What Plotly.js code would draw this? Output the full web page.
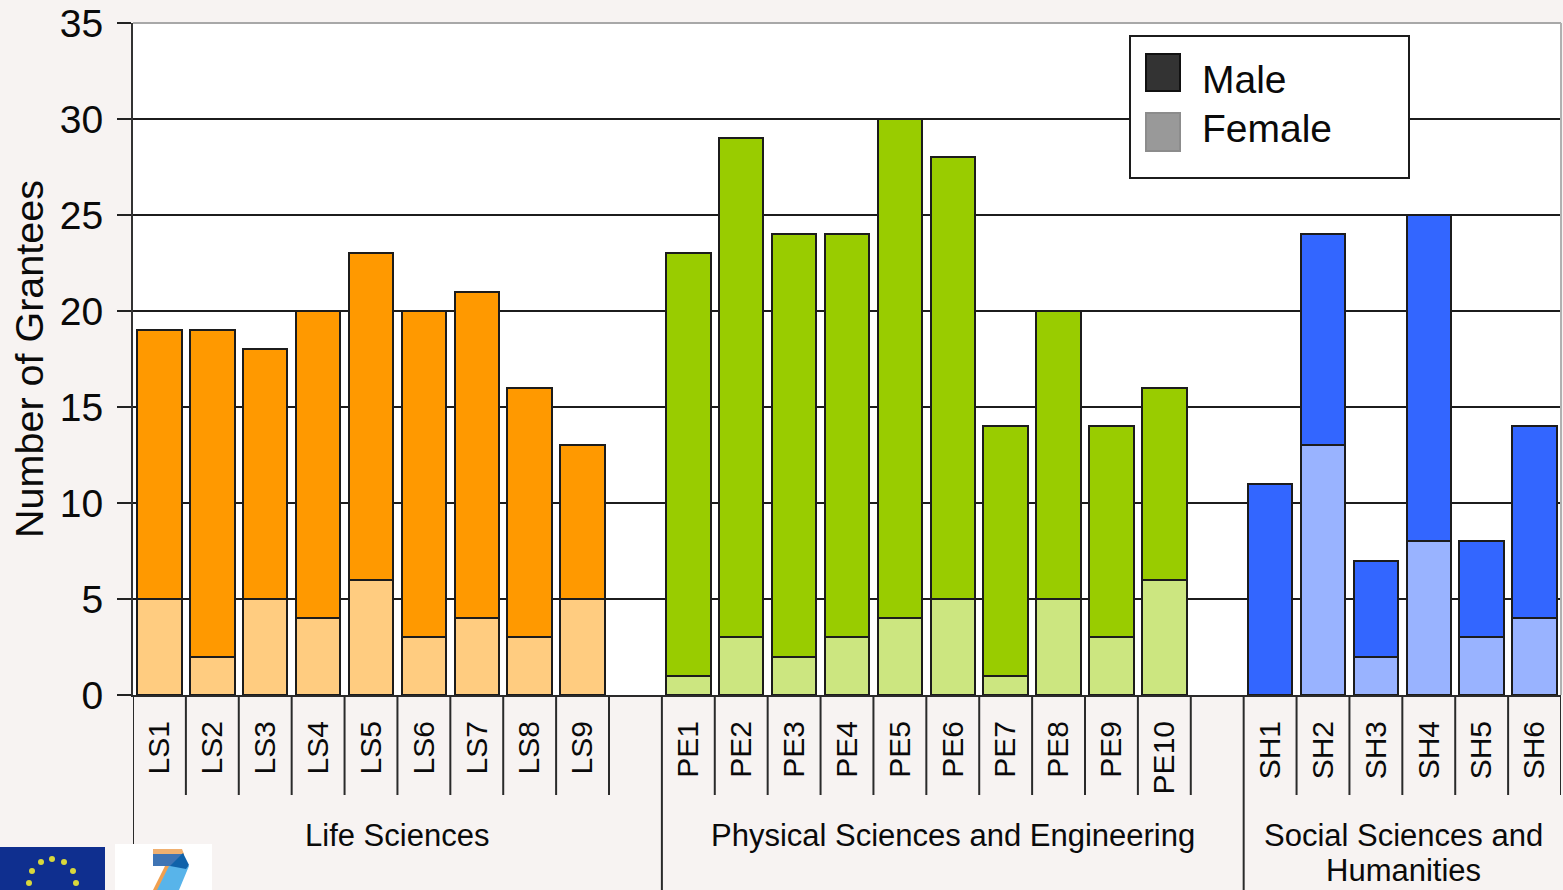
<!DOCTYPE html>
<html><head><meta charset="utf-8">
<script src="https://cdn.plot.ly/plotly-3.0.1.min.js"></script>
<style>html,body{margin:0;padding:0;background:#f7f3f2;overflow:hidden}#c{width:1563px;height:890px}</style>
</head><body><div id="c"></div>
<script>
const lsCats=["LS1","LS2","LS3","LS4","LS5","LS6","LS7","LS8","LS9"];
const peCats=["PE1","PE2","PE3","PE4","PE5","PE6","PE7","PE8","PE9","PE10"];
const shCats=["SH1","SH2","SH3","SH4","SH5","SH6"];
const lsFemale=[5,2,5,4,6,3,4,3,5];
const lsMale=[14,17,13,16,17,17,17,13,8];
const peFemale=[1,3,2,3,4,5,1,5,3,6];
const peMale=[22,26,22,21,26,23,13,15,11,10];
const shFemale=[0,13,2,8,3,4];
const shMale=[11,11,5,17,5,10];
const yTicks=[0,5,10,15,20,25,30,35];
const gapA=" ",gapB="  ";
const W=1563,H=890,L=133,R=1561,T=23,B=695;
const cats=[...lsCats,gapA,...peCats,gapB,...shCats];
const n=cats.length;
const xp=v=>(v-L)/(R-L), yp=v=>(B-v)/(B-T);
const f='Liberation Sans, Arial, sans-serif';
const ink='#0a0a0a';
function bar(name,cs,vals,color){
  return {type:'bar',name:name,x:cs,y:vals,showlegend:false,
    marker:{color:color,line:{color:'#1c1c1c',width:2}},width:0.84};
}
const traces=[
 bar('Female',lsCats,lsFemale,'#ffcc80'),
 bar('Female',peCats,peFemale,'#cce680'),
 bar('Female',shCats,shFemale,'#99b3ff'),
 bar('Male',lsCats,lsMale,'#ff9900'),
 bar('Male',peCats,peMale,'#99cc00'),
 bar('Male',shCats,shMale,'#3366ff')
];
const shapes=[];
// dividers below the axis: short between categories, long between groups
const groupEdges=[-0.5,9.5,20.5];
for(let i=0;i<=n;i++){
  const xv=i-0.5;
  shapes.push({type:'line',xref:'x',yref:'paper',x0:xv,x1:xv,y0:0,y1:yp(groupEdges.includes(xv)?890:795),line:{color:'#2a2a2a',width:2}});
}
const paper={xref:'paper',yref:'paper'};
// top and right plot border
shapes.push({...paper,type:'line',x0:0,x1:1,y0:1,y1:1,line:{color:'#a8a8a8',width:2}});
shapes.push({...paper,type:'line',x0:1,x1:1,y0:0,y1:1,line:{color:'#b0b0b0',width:2}});
// legend box
const rect=(x0,y0,x1,y1,fill,line,lw)=>({...paper,type:'rect',layer:'above',x0:xp(x0),x1:xp(x1),y0:yp(y1),y1:yp(y0),fillcolor:fill,line:{color:line,width:lw}});
shapes.push(rect(1130,36,1409,178,'#ffffff','#1c1c1c',2));
shapes.push(rect(1146,54,1180,91,'#333333','#111111',2));
shapes.push(rect(1146,113,1180,151,'#999999','#8c8c8c',2));
// logos
const poly=(pts,fill)=>({...paper,type:'path',layer:'above',fillcolor:fill,line:{width:0},
  path:'M'+pts.map(p=>xp(p[0])+','+yp(p[1])).join('L')+'Z'});
shapes.push(rect(0,847,105,890,'#0f2f8f','#0f2f8f',0));
shapes.push(rect(115,844,212,890,'#ffffff','#ffffff',0));
const euStars=[[52,859],[41,862],[64,862],[32,871],[73,871],[29,883],[76,883]];
euStars.forEach(s=>shapes.push({...paper,type:'circle',layer:'above',x0:xp(s[0]-3),x1:xp(s[0]+3),y0:yp(s[1]+3),y1:yp(s[1]-3),fillcolor:'#d8d83c',line:{width:0}}));
shapes.push(poly([[165,866],[170,866],[158,890],[153,890]],'#f0a050'));
shapes.push(poly([[169,866],[189,866],[179,890],[157,890]],'#58b4ea'));
shapes.push(poly([[153,849],[182,849],[184,854],[153,854]],'#f0b070'));
shapes.push(poly([[153,854],[184,854],[176,866],[153,866]],'#3f74b4'));
shapes.push(poly([[170,866],[183,853],[189,865],[186,869]],'#0f62aa'));
const ann=(text,xv,yv,size,anchor)=>({text,x:xp(xv),y:yp(yv),xref:'paper',yref:'paper',showarrow:false,xanchor:anchor,yanchor:'middle',font:{family:f,size,color:ink}});
const annotations=[
 ann('Male',1200,79,39,'left'),
 ann('Female',1200,128,39,'left'),
 ann('Life Sciences',397,835,31,'center'),
 ann('Physical Sciences and Engineering',953,835,31,'center'),
 ann('Social Sciences and',1403,835,31,'center'),
 ann('Humanities',1403,870,31,'center')
];
const layout={
 width:W,height:H,margin:{l:L,r:W-R,t:T,b:H-B},
 paper_bgcolor:'#f7f3f2',plot_bgcolor:'#ffffff',barmode:'stack',showlegend:false,
 font:{family:f,color:ink},
 xaxis:{type:'category',categoryorder:'array',categoryarray:cats,tickmode:'array',tickvals:cats,ticktext:cats,
   tickangle:-90,ticks:'',ticklabelstandoff:12,tickfont:{size:30,color:ink,family:f},showgrid:false,showline:true,linecolor:'#2a2a2a',linewidth:2,automargin:false,range:[-0.5,n-0.5]},
 yaxis:{range:[0,35],tickmode:'array',tickvals:yTicks,ticks:'outside',ticklen:14,tickwidth:2,tickcolor:'#222',ticklabelstandoff:6,tickfont:{size:39,color:ink,family:f},
   showgrid:true,gridcolor:'#1c1c1c',gridwidth:2,showline:true,linecolor:'#333',linewidth:2,zeroline:false,automargin:false,
   title:{text:'Number of Grantees',font:{size:39.5,family:f,color:ink},standoff:4}},
 shapes,annotations
};
Plotly.newPlot('c',traces,layout,{displayModeBar:false,staticPlot:true});
</script></body></html>
